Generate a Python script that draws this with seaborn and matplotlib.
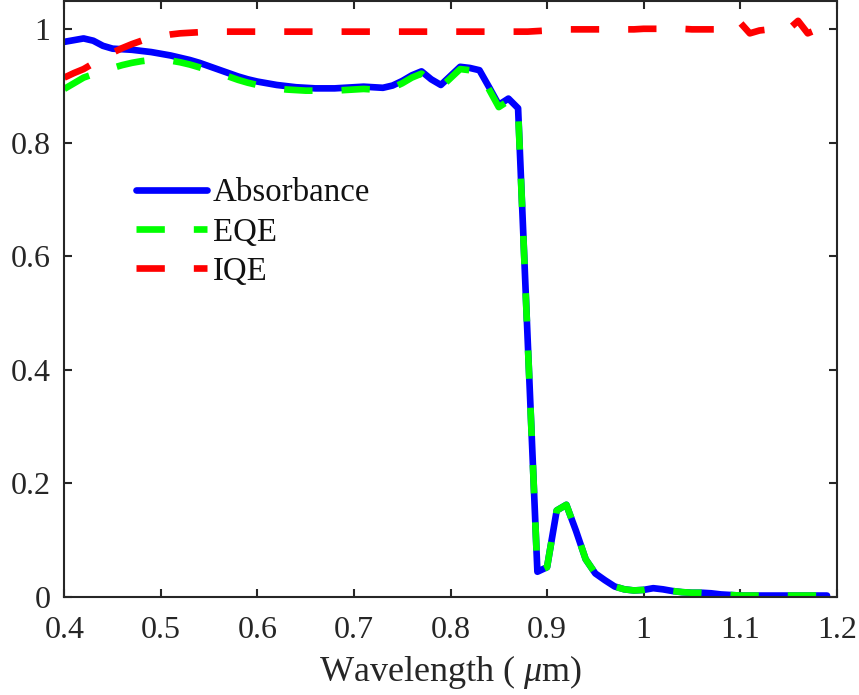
import numpy as np
import pandas as pd
import matplotlib
matplotlib.use("Agg")
import matplotlib.pyplot as plt
from matplotlib.ticker import FuncFormatter, MultipleLocator
import seaborn as sns

# Wavelength grid (um), 10 nm steps
wavelength = [round(0.40 + 0.01 * i, 2) for i in range(80)]

absorbance = [
    0.978, 0.981, 0.984, 0.980, 0.971, 0.966, 0.965, 0.964, 0.962, 0.960,
    0.957, 0.954, 0.950, 0.946, 0.941, 0.935, 0.929, 0.923, 0.917, 0.912,
    0.908, 0.905, 0.902, 0.900, 0.898, 0.897, 0.896, 0.896, 0.896, 0.897,
    0.898, 0.899, 0.898, 0.897, 0.901, 0.909, 0.919, 0.926, 0.912, 0.902,
    0.918, 0.934, 0.932, 0.928, 0.898, 0.867, 0.878, 0.861, 0.450, 0.044,
    0.052, 0.152, 0.162, 0.116, 0.066, 0.041, 0.029, 0.018, 0.013, 0.011,
    0.012, 0.015, 0.013, 0.010, 0.008, 0.007, 0.007, 0.006, 0.004, 0.003,
    0.002, 0.002, 0.002, 0.002, 0.002, 0.002, 0.002, 0.002, 0.002, 0.002,
]

eqe = [
    0.895, 0.905, 0.915, 0.921, 0.927, 0.932, 0.937, 0.941, 0.944, 0.946,
    0.946, 0.945, 0.942, 0.938, 0.933, 0.928, 0.922, 0.917, 0.911, 0.906,
    0.902, 0.899, 0.896, 0.894, 0.893, 0.892, 0.892, 0.892, 0.892, 0.893,
    0.894, 0.895, 0.894, 0.893, 0.897, 0.905, 0.915, 0.922, 0.908, 0.898,
    0.914, 0.930, 0.928, 0.924, 0.894, 0.863, 0.874, 0.858, 0.448, 0.044,
    0.052, 0.152, 0.162, 0.116, 0.066, 0.041, 0.029, 0.018, 0.013, 0.011,
    0.012, 0.015, 0.013, 0.010, 0.008, 0.007, 0.007, 0.006, 0.004, 0.003,
    0.002, 0.002, 0.002, 0.002, 0.002, 0.002, 0.002, 0.002, 0.002, 0.002,
]

iqe = [
    0.915, 0.923, 0.930, 0.940, 0.951, 0.959, 0.967, 0.974, 0.980, 0.985,
    0.988, 0.991, 0.993, 0.994, 0.995, 0.996, 0.996, 0.996, 0.996, 0.996,
    0.996, 0.996, 0.996, 0.996, 0.996, 0.996, 0.996, 0.996, 0.996, 0.996,
    0.996, 0.996, 0.996, 0.996, 0.996, 0.996, 0.996, 0.996, 0.996, 0.996,
    0.996, 0.996, 0.996, 0.996, 0.996, 0.996, 0.996, 0.996, 0.996, 0.997,
    0.998, 0.999, 1.000, 1.000, 1.000, 1.000, 1.000, 1.000, 1.000, 1.000,
    1.001, 1.001, 1.001, 1.001, 1.001, 1.000, 1.000, 1.000, 1.000, 1.003,
    1.012, 0.993, 0.998, 1.000, 1.000, 1.000, 1.015, 0.993, 1.000, 1.006,
]

series_labels = ["Absorbance", "EQE", "IQE"]
series_colors = ["#0000ff", "#00ff00", "#ff0000"]

sns.set_style("white")
plt.rcParams["font.family"] = ["Liberation Serif", "DejaVu Serif"]
plt.rcParams["mathtext.fontset"] = "custom"
plt.rcParams["mathtext.rm"] = "Liberation Serif"
plt.rcParams["mathtext.it"] = "Liberation Serif:italic"

axis_color = "#262626"
fig = plt.figure(figsize=(8.59, 6.95), dpi=100)
ax = fig.add_axes([64.3 / 859, 98.3 / 695, (836.7 - 64.3) / 859, (596.7 - 1.0) / 695])

lw = 4.8
for values, label, color in zip([absorbance, eqe, iqe], series_labels, series_colors):
    sns.lineplot(x=wavelength, y=values, ax=ax, color=color, linewidth=lw,
                 label=label, legend=False)

ax.lines[1].set_dashes((4.25, 4.35))
ax.lines[2].set_dashes((4.25, 4.35))
for ln in ax.lines:
    ln.set_solid_joinstyle("round")
    ln.set_dash_joinstyle("round")

ax.set_xlim(0.4, 1.2)
ax.set_ylim(0, 1.05)
ax.xaxis.set_major_locator(MultipleLocator(0.1))
ax.yaxis.set_major_locator(MultipleLocator(0.2))
fmt = FuncFormatter(lambda v, p: "%g" % round(v, 2))
ax.xaxis.set_major_formatter(fmt)
ax.yaxis.set_major_formatter(fmt)

for side in ["left", "right", "top", "bottom"]:
    ax.spines[side].set_visible(True)
    ax.spines[side].set_color(axis_color)
    ax.spines[side].set_linewidth(1.5)

ax.tick_params(axis="both", which="major", direction="in", length=6, width=1.5,
               colors=axis_color, labelsize=23, top=True, right=True,
               bottom=True, left=True)
ax.tick_params(axis="x", pad=14)
ax.tick_params(axis="y", pad=10)

ax.set_xlabel("Wavelength ( $\\mu$m)", fontsize=26, color=axis_color, labelpad=6)
ax.set_ylabel("")

leg = ax.legend(loc="upper left", bbox_to_anchor=(136 / 859, 1 - 178 / 695),
                bbox_transform=fig.transFigure, frameon=False, fontsize=23.7,
                handlelength=2.15, handletextpad=0.19, labelspacing=0.26,
                borderpad=0, borderaxespad=0)
for t in leg.get_texts():
    t.set_color("#111111")

fig.savefig("out.png", dpi=100)
